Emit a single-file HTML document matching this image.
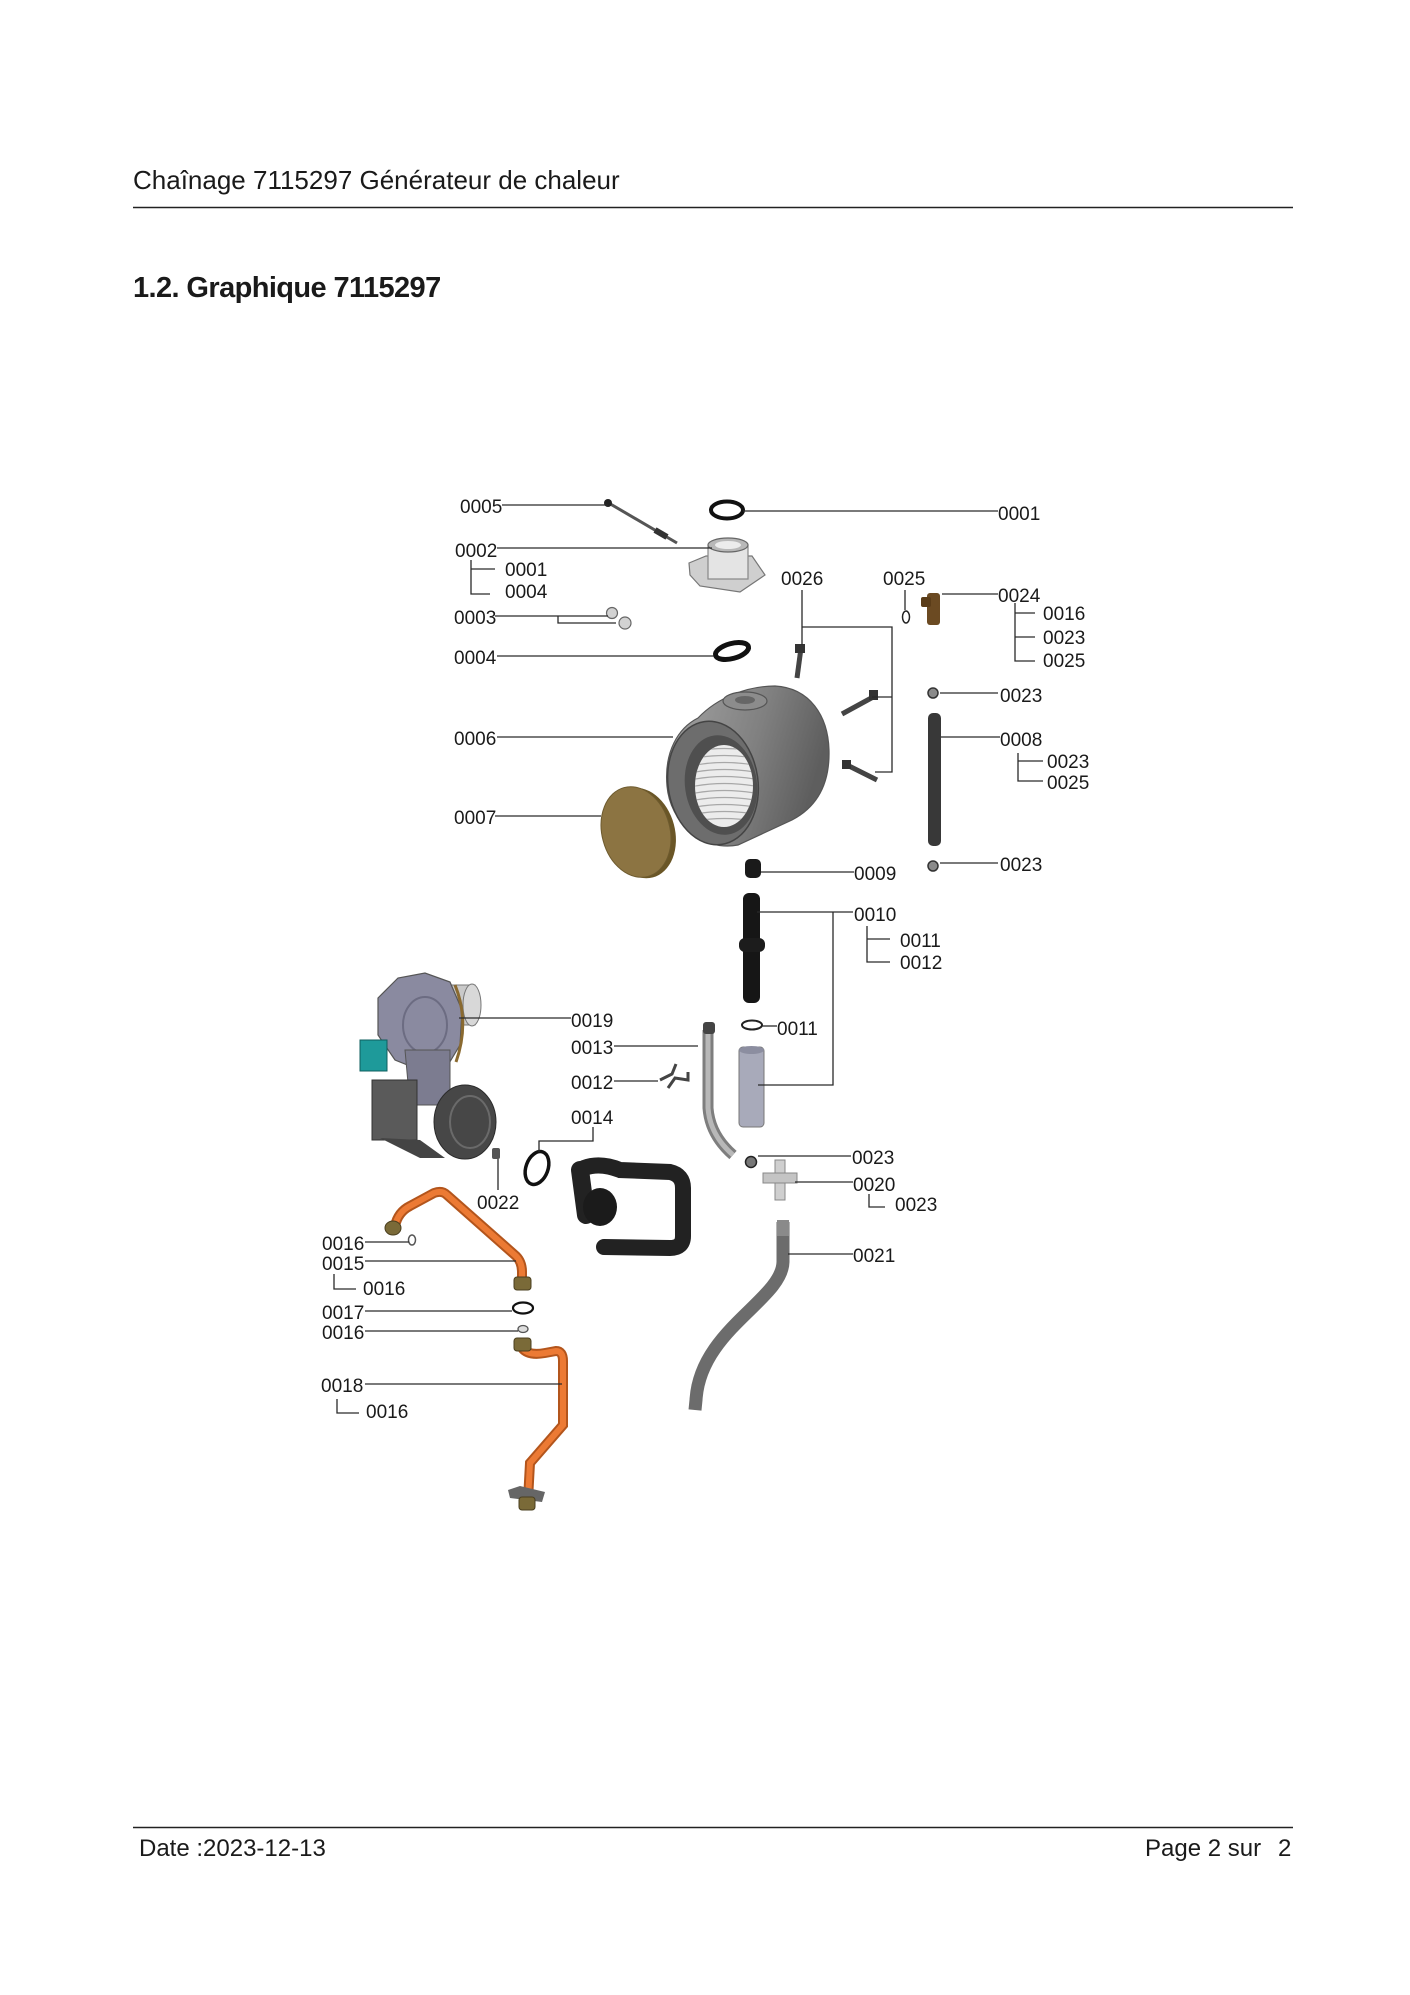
<!DOCTYPE html>
<html><head><meta charset="utf-8"><style>
html,body{margin:0;padding:0;background:#fff;}
svg{display:block;}
text{font-family:"Liberation Sans",Arial,sans-serif;fill:#1a1a1a;}
.l{font-size:19px;}
.ln{stroke:#2a2a2a;stroke-width:1.3;fill:none;}
</style></head><body>
<svg width="1410" height="1995" viewBox="0 0 1410 1995" xmlns="http://www.w3.org/2000/svg">
<defs>
<linearGradient id="hx" x1="0" y1="0" x2="1" y2="0.3">
<stop offset="0" stop-color="#a4a4a4"/><stop offset="0.6" stop-color="#808080"/><stop offset="1" stop-color="#5e5e5e"/>
</linearGradient>
<clipPath id="coil"><ellipse cx="724" cy="786" rx="29" ry="41"/></clipPath>
</defs>
<rect width="1410" height="1995" fill="#fff"/>

<text x="133" y="189" style="font-size:26px">Chaînage 7115297 Générateur de chaleur</text>
<line x1="133" y1="207.5" x2="1293" y2="207.5" stroke="#222" stroke-width="1.6"/>
<text x="133" y="297" style="font-size:29px;font-weight:bold;letter-spacing:-0.6px">1.2. Graphique 7115297</text>

<line x1="133" y1="1827.5" x2="1293" y2="1827.5" stroke="#222" stroke-width="1.6"/>
<text x="139" y="1856" style="font-size:24px">Date :2023-12-13</text>
<text x="1145" y="1856" style="font-size:24px">Page 2 sur</text>
<text x="1278" y="1856" style="font-size:24px">2</text>

<line x1="607" y1="502" x2="677" y2="543" stroke="#555" stroke-width="3"/>
<circle cx="608" cy="503" r="4" fill="#222"/>
<line x1="655" y1="530" x2="667" y2="537" stroke="#333" stroke-width="6"/>
<ellipse cx="727" cy="510" rx="16" ry="8.5" fill="none" stroke="#111" stroke-width="4"/>
<polygon points="689,563 706,556 752,556 765,575 740,592 700,586 690,575" fill="#cfcfcf" stroke="#777" stroke-width="1.2"/>
<rect x="708" y="545" width="40" height="34" fill="#e4e4e4" stroke="#888" stroke-width="1.2"/>
<ellipse cx="728" cy="545" rx="20" ry="7" fill="#b8b8b8" stroke="#666" stroke-width="1.2"/>
<ellipse cx="728" cy="545" rx="13" ry="4" fill="#ececec"/>
<circle cx="612" cy="613" r="5.5" fill="#d2d2d2" stroke="#666" stroke-width="1.2"/>
<circle cx="625" cy="623" r="6" fill="#d2d2d2" stroke="#666" stroke-width="1.2"/>
<ellipse cx="732" cy="651" rx="17" ry="7.5" transform="rotate(-15 732 651)" fill="none" stroke="#111" stroke-width="5"/>

<path d="M698,718 C718,697 748,686 775,686 C810,688 828,716 829,750 C830,786 815,808 792,820 L738,845 C702,852 670,822 667,786 C664,752 678,728 698,718 Z" fill="url(#hx)" stroke="#555" stroke-width="1.2"/>
<ellipse cx="713" cy="783" rx="45" ry="62" transform="rotate(-8 713 783)" fill="#6d6d6d" stroke="#444" stroke-width="1.5"/>
<ellipse cx="721" cy="785" rx="36" ry="50" transform="rotate(-8 721 785)" fill="#4f4f4f"/>
<ellipse cx="724" cy="786" rx="29" ry="41" fill="#ececec"/>
<g clip-path="url(#coil)" stroke="#a8a8a8" stroke-width="1.2" fill="none">
<path d="M690,752 Q724,745 760,752"/><path d="M690,759 Q724,752 760,759"/><path d="M690,766 Q724,759 760,766"/>
<path d="M690,773 Q724,766 760,773"/><path d="M690,780 Q724,773 760,780"/><path d="M690,787 Q724,780 760,787"/>
<path d="M690,794 Q724,787 760,794"/><path d="M690,801 Q724,794 760,801"/><path d="M690,808 Q724,801 760,808"/>
<path d="M690,815 Q724,808 760,815"/><path d="M690,822 Q724,815 760,822"/>
</g>
<ellipse cx="745" cy="701" rx="22" ry="9" fill="#8c8c8c" stroke="#555" stroke-width="1.2"/>
<ellipse cx="745" cy="700" rx="10" ry="4" fill="#666"/>

<ellipse cx="641" cy="833" rx="34" ry="46" transform="rotate(-15 641 833)" fill="#6a5626"/>
<ellipse cx="636" cy="832" rx="34" ry="46" transform="rotate(-15 636 832)" fill="#8c7442" stroke="#6d5a2e" stroke-width="1"/>

<line x1="801" y1="648" x2="797" y2="678" stroke="#444" stroke-width="5"/>
<rect x="795" y="644" width="10" height="9" fill="#333"/>
<line x1="875" y1="696" x2="842" y2="714" stroke="#444" stroke-width="5"/>
<rect x="869" y="690" width="9" height="10" fill="#333"/>
<line x1="847" y1="765" x2="877" y2="780" stroke="#444" stroke-width="5"/>
<rect x="842" y="760" width="9" height="9" fill="#333"/>
<ellipse cx="906" cy="617" rx="3.5" ry="6" fill="none" stroke="#222" stroke-width="1.5"/>
<rect x="927" y="593" width="13" height="32" rx="3" fill="#6b4a22"/>
<rect x="921" y="597" width="10" height="10" rx="2" fill="#5a3c18"/>
<circle cx="933" cy="693" r="5" fill="#8a8a8a" stroke="#333" stroke-width="1.5"/>
<circle cx="933" cy="866" r="5" fill="#8a8a8a" stroke="#333" stroke-width="1.5"/>
<rect x="928" y="713" width="13" height="133" rx="5" fill="#383838"/>
<rect x="745" y="859" width="16" height="19" rx="5" fill="#1a1a1a"/>
<rect x="743" y="893" width="17" height="110" rx="6" fill="#161616"/>
<rect x="739" y="938" width="26" height="14" rx="6" fill="#1c1c1c"/>
<ellipse cx="752" cy="1025" rx="10" ry="4.5" fill="none" stroke="#222" stroke-width="2"/>
<rect x="739" y="1047" width="25" height="80" rx="4" fill="#a8aaba" stroke="#777" stroke-width="1"/>
<ellipse cx="751.5" cy="1050" rx="12.5" ry="4" fill="#8c8ea0"/>
<path d="M708,1030 L708,1108 Q710,1135 733,1155" fill="none" stroke="#7e7e7e" stroke-width="11"/>
<path d="M708,1030 L708,1108 Q710,1135 733,1155" fill="none" stroke="#b8b8b8" stroke-width="5"/>
<rect x="703" y="1022" width="12" height="12" rx="3" fill="#444"/>
<path d="M660,1080 L672,1074 L676,1064 M668,1088 L675,1078 L688,1080 L688,1072" fill="none" stroke="#444" stroke-width="3"/>
<circle cx="751" cy="1162" r="5.5" fill="#777" stroke="#222" stroke-width="1.5"/>
<rect x="775" y="1160" width="10" height="40" fill="#cfcfcf" stroke="#888" stroke-width="1"/>
<rect x="763" y="1173" width="34" height="10" fill="#c4c4c4" stroke="#888" stroke-width="1"/>
<path d="M783,1222 L783,1262 C782,1300 700,1330 696,1400 L695,1410" fill="none" stroke="#6c6c6c" stroke-width="13"/>
<rect x="777" y="1220" width="12" height="16" fill="#8a8a8a"/>

<rect x="447" y="985" width="28" height="40" fill="#c9c9c9" stroke="#777" stroke-width="1"/>
<ellipse cx="472" cy="1005" rx="9" ry="21" fill="#d8d8d8" stroke="#777" stroke-width="1"/>
<path d="M378,998 L398,978 L425,973 L450,982 L462,1010 L460,1045 L448,1065 L420,1070 L395,1060 L378,1035 Z" fill="#8a8aa0" stroke="#555" stroke-width="1.2"/>
<ellipse cx="425" cy="1025" rx="22" ry="28" fill="none" stroke="#6c6c82" stroke-width="2"/>
<path d="M455,985 Q470,1022 456,1062" fill="none" stroke="#8a6a30" stroke-width="3"/>
<polygon points="405,1050 450,1050 450,1105 410,1105" fill="#7c7c90" stroke="#555" stroke-width="1"/>
<rect x="360" y="1040" width="27" height="31" fill="#1e9a9a" stroke="#0f5f5f" stroke-width="1"/>
<rect x="372" y="1080" width="45" height="60" fill="#5a5a5a" stroke="#333" stroke-width="1"/>
<ellipse cx="465" cy="1122" rx="31" ry="37" fill="#474747" stroke="#2a2a2a" stroke-width="1"/>
<ellipse cx="470" cy="1122" rx="20" ry="26" fill="none" stroke="#6a6a6a" stroke-width="2"/>
<polygon points="380,1138 420,1140 445,1158 420,1158" fill="#444"/>
<rect x="492" y="1148" width="8" height="11" rx="2" fill="#555"/>
<ellipse cx="537" cy="1168" rx="11" ry="17" transform="rotate(20 537 1168)" fill="none" stroke="#111" stroke-width="3.5"/>
<path d="M584,1168 Q600,1162 620,1170 L670,1172 Q683,1175 683,1188 L683,1236 Q683,1248 670,1248 L604,1247" fill="none" stroke="#222" stroke-width="16" stroke-linecap="round"/>
<path d="M580,1170 L586,1215" fill="none" stroke="#222" stroke-width="18" stroke-linecap="round"/>
<ellipse cx="600" cy="1207" rx="17" ry="19" fill="#1b1b1b"/>

<path d="M395,1226 Q398,1212 410,1206 L434,1193 Q442,1190 447,1195 L516,1256 Q522,1262 522,1272 L522,1279" fill="none" stroke="#b3551c" stroke-width="10"/>
<path d="M395,1226 Q398,1212 410,1206 L434,1193 Q442,1190 447,1195 L516,1256 Q522,1262 522,1272 L522,1279" fill="none" stroke="#ec7a34" stroke-width="6"/>
<ellipse cx="393" cy="1228" rx="8" ry="7" fill="#7a6a38" stroke="#4a3f1f" stroke-width="1"/>
<rect x="514" y="1277" width="17" height="13" rx="3" fill="#7a6a38" stroke="#4a3f1f" stroke-width="1"/>
<ellipse cx="412" cy="1240" rx="3.5" ry="5" fill="none" stroke="#555" stroke-width="1.5"/>
<ellipse cx="523" cy="1308" rx="10" ry="5.5" fill="none" stroke="#111" stroke-width="2.2"/>
<ellipse cx="523" cy="1329" rx="5" ry="3.5" fill="#ddd" stroke="#555" stroke-width="1.3"/>
<path d="M522,1348 Q528,1356 545,1353 L556,1351 Q563,1351 563,1361 L563,1425 L530,1463 L528,1500" fill="none" stroke="#b3551c" stroke-width="10"/>
<path d="M522,1348 Q528,1356 545,1353 L556,1351 Q563,1351 563,1361 L563,1425 L530,1463 L528,1500" fill="none" stroke="#ec7a34" stroke-width="6"/>
<rect x="514" y="1338" width="17" height="13" rx="3" fill="#7a6a38" stroke="#4a3f1f" stroke-width="1"/>
<polygon points="508,1490 520,1486 545,1492 542,1502 510,1498" fill="#666"/>
<rect x="519" y="1497" width="16" height="13" rx="3" fill="#7a6a38" stroke="#4a3f1f" stroke-width="1"/>

<g class="ln">
<path d="M502,505 H608"/>
<path d="M743,511 H998"/>
<path d="M497,548 H712"/>
<path d="M471,560 V594 H490 M471,569 H495"/>
<path d="M495,616 H608 M558,616 V623 H616"/>
<path d="M497,656 H714"/>
<path d="M497,737 H673"/>
<path d="M495,816 H601"/>
<path d="M802,590 V645 M802,627 H892 V772 H875 M872,697 H892"/>
<path d="M905,590 V610"/>
<path d="M942,594 H998"/>
<path d="M1015,603 V661 H1035 M1015,613 H1035 M1015,637 H1035"/>
<path d="M940,693 H998"/>
<path d="M941,737 H1000"/>
<path d="M1018,753 V781 H1043 M1018,761 H1043"/>
<path d="M940,863 H998"/>
<path d="M761,872 H854"/>
<path d="M757,912 H853 M833,912 V1085 H758"/>
<path d="M867,926 V962 H890 M867,939 H890"/>
<path d="M762,1026 H777"/>
<path d="M459,1018 H571"/>
<path d="M614,1046 H698"/>
<path d="M614,1081 H658"/>
<path d="M593,1127 V1141 H539 V1152"/>
<path d="M498,1159 V1190"/>
<path d="M758,1156 H851"/>
<path d="M795,1182 H853"/>
<path d="M869,1194 V1207 H885"/>
<path d="M788,1254 H853"/>
<path d="M365,1242 H409"/>
<path d="M365,1261 H516"/>
<path d="M334,1274 V1289 H356"/>
<path d="M365,1311 H512"/>
<path d="M365,1331 H518"/>
<path d="M365,1384 H562"/>
<path d="M337,1399 V1413 H359"/>
</g>

<g class="l">
<text x="460" y="513">0005</text>
<text x="998" y="520">0001</text>
<text x="455" y="557">0002</text>
<text x="505" y="576">0001</text>
<text x="505" y="598">0004</text>
<text x="454" y="624">0003</text>
<text x="454" y="664">0004</text>
<text x="454" y="745">0006</text>
<text x="454" y="824">0007</text>
<text x="781" y="585">0026</text>
<text x="883" y="585">0025</text>
<text x="998" y="602">0024</text>
<text x="1043" y="620">0016</text>
<text x="1043" y="644">0023</text>
<text x="1043" y="667">0025</text>
<text x="1000" y="702">0023</text>
<text x="1000" y="746">0008</text>
<text x="1047" y="768">0023</text>
<text x="1047" y="789">0025</text>
<text x="1000" y="871">0023</text>
<text x="854" y="880">0009</text>
<text x="854" y="921">0010</text>
<text x="900" y="947">0011</text>
<text x="900" y="969">0012</text>
<text x="777" y="1035">0011</text>
<text x="571" y="1027">0019</text>
<text x="571" y="1054">0013</text>
<text x="571" y="1089">0012</text>
<text x="571" y="1124">0014</text>
<text x="477" y="1209">0022</text>
<text x="852" y="1164">0023</text>
<text x="853" y="1191">0020</text>
<text x="895" y="1211">0023</text>
<text x="853" y="1262">0021</text>
<text x="322" y="1250">0016</text>
<text x="322" y="1270">0015</text>
<text x="363" y="1295">0016</text>
<text x="322" y="1319">0017</text>
<text x="322" y="1339">0016</text>
<text x="321" y="1392">0018</text>
<text x="366" y="1418">0016</text>
</g>
</svg>
</body></html>
